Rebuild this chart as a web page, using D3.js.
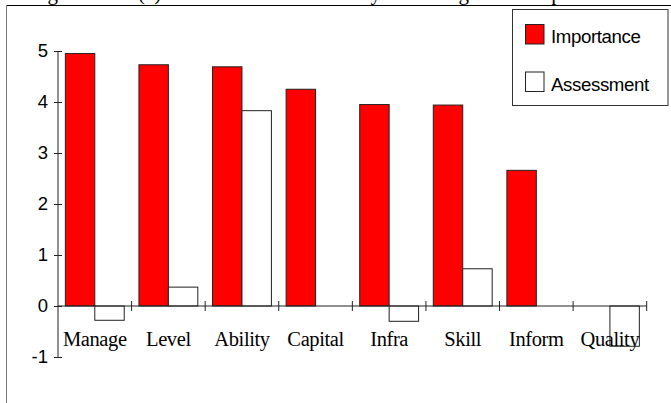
<!DOCTYPE html>
<html>
<head>
<meta charset="utf-8">
<script src="https://cdn.jsdelivr.net/npm/d3@7/dist/d3.min.js"></script>
<style>
  html, body { margin: 0; padding: 0; background: #fff; }
  svg { display: block; }
</style>
</head>
<body>
<svg id="chart" width="671" height="403"></svg>
<script>
// Factor categories along the x axis
const categories = ["Manage", "Level", "Ability", "Capital", "Infra", "Skill", "Inform", "Quality"];
// Mean importance rating for each factor
const importance = [4.95, 4.73, 4.69, 4.25, 3.95, 3.94, 2.66, 0];
// Mean assessment score for each factor
const assessment = [-0.28, 0.37, 3.83, 0, -0.30, 0.73, 0, -0.79];
// Y axis tick values
const yTicks = [-1, 0, 1, 2, 3, 4, 5];
// Legend entries
const seriesNames = ["Importance", "Assessment"];

const svg = d3.select("#chart");

// Caption sitting above the frame; only its descenders show
const caption = svg.append("text")
  .attr("font-family", "'Liberation Serif', 'Times New Roman', serif")
  .attr("font-size", 21)
  .attr("y", 0)
  .attr("fill", "#000");
[["Figure", 30], ["(a)", 138], ["Needs Assessment", 190], ["by", 360], ["Rating", 413], ["Sample", 514]]
  .forEach(([w, px]) => caption.append("tspan").attr("x", px).text(w));

// Outer frame edges
svg.append("line").attr("x1", 6).attr("x2", 671).attr("y1", 5.5).attr("y2", 5.5)
  .attr("stroke", "#000").attr("stroke-width", 1.2);
svg.append("line").attr("x1", 6.5).attr("x2", 6.5).attr("y1", 5).attr("y2", 403)
  .attr("stroke", "#777").attr("stroke-width", 1);

const x = d3.scaleBand().domain(categories).range([58, 646.7]).paddingInner(0).paddingOuter(0);
const y = d3.scaleLinear().domain([-1, 5]).range([357, 51]);
const bw = x.bandwidth();

// Bars: importance (red) and assessment (white)
const g = svg.append("g");
g.selectAll("rect.imp").data(categories).join("rect")
  .attr("class", "imp")
  .attr("x", d => x(d) + bw * 0.1)
  .attr("width", bw * 0.4)
  .attr("y", (d, i) => Math.min(y(importance[i]), y(0)))
  .attr("height", (d, i) => Math.abs(y(importance[i]) - y(0)))
  .attr("fill", "#ff0000")
  .attr("stroke", "#222").attr("stroke-width", 1)
  .attr("visibility", (d, i) => importance[i] === 0 ? "hidden" : "visible");
g.selectAll("rect.ass").data(categories).join("rect")
  .attr("class", "ass")
  .attr("x", d => x(d) + bw * 0.5)
  .attr("width", bw * 0.4)
  .attr("y", (d, i) => Math.min(y(assessment[i]), y(0)))
  .attr("height", (d, i) => Math.abs(y(assessment[i]) - y(0)))
  .attr("fill", "#fff")
  .attr("stroke", "#222").attr("stroke-width", 1)
  .attr("visibility", (d, i) => assessment[i] === 0 ? "hidden" : "visible");

// Y axis with ticks crossing the line
const yAxis = svg.append("g")
  .attr("transform", `translate(${x.range()[0]},0)`)
  .call(d3.axisLeft(y).tickValues(yTicks).tickFormat(d => String(d)).tickSize(4).tickPadding(6));
yAxis.select(".domain").attr("stroke", "#222").attr("d", `M0,${y(5)}V${y(-1)}`);
yAxis.selectAll(".tick line").attr("x1", -4).attr("x2", 4).attr("stroke", "#222");
yAxis.selectAll(".tick text")
  .attr("x", -10)
  .attr("font-family", "'Liberation Sans', Arial, sans-serif")
  .attr("font-size", 18.5)
  .attr("fill", "#000");

// X axis at zero with category boundary ticks
const xAxis = svg.append("g")
  .attr("transform", `translate(0,${y(0)})`)
  .call(d3.axisBottom(x).tickSize(0).tickPadding(0));
xAxis.select(".domain").attr("stroke", "#222").attr("d", `M${x.range()[0]},0H${x.range()[1]}`);
xAxis.selectAll(".tick text")
  .attr("y", 40).attr("dy", 0)
  .attr("font-family", "'Liberation Serif', 'Times New Roman', serif")
  .attr("font-size", 20.5)
  .attr("letter-spacing", -0.4)
  .attr("fill", "#000");
const bounds = categories.slice(1).map(d => x(d)).concat([x.range()[1]]);
xAxis.selectAll("line.bound").data(bounds).join("line")
  .attr("class", "bound")
  .attr("x1", d => d).attr("x2", d => d)
  .attr("y1", -5).attr("y2", 5)
  .attr("stroke", "#222");

// Legend
const legend = svg.append("g");
legend.append("rect").attr("x", 512.5).attr("y", 9.5).attr("width", 155.5).attr("height", 96)
  .attr("fill", "#fff").attr("stroke", "#333");
const fills = ["#ff0000", "#fff"];
seriesNames.forEach((name, i) => {
  const row = legend.append("g").attr("transform", `translate(0,${i * 47.5})`);
  row.append("rect").attr("x", 525.5).attr("y", 24.5).attr("width", 18.5).attr("height", 19.5)
    .attr("fill", fills[i]).attr("stroke", "#222");
  row.append("text").attr("x", 551).attr("y", 43.3)
    .attr("font-family", "'Liberation Sans', Arial, sans-serif")
    .attr("font-size", 18.7)
    .attr("letter-spacing", -0.4)
    .attr("fill", "#000")
    .text(name);
});
</script>
</body>
</html>
